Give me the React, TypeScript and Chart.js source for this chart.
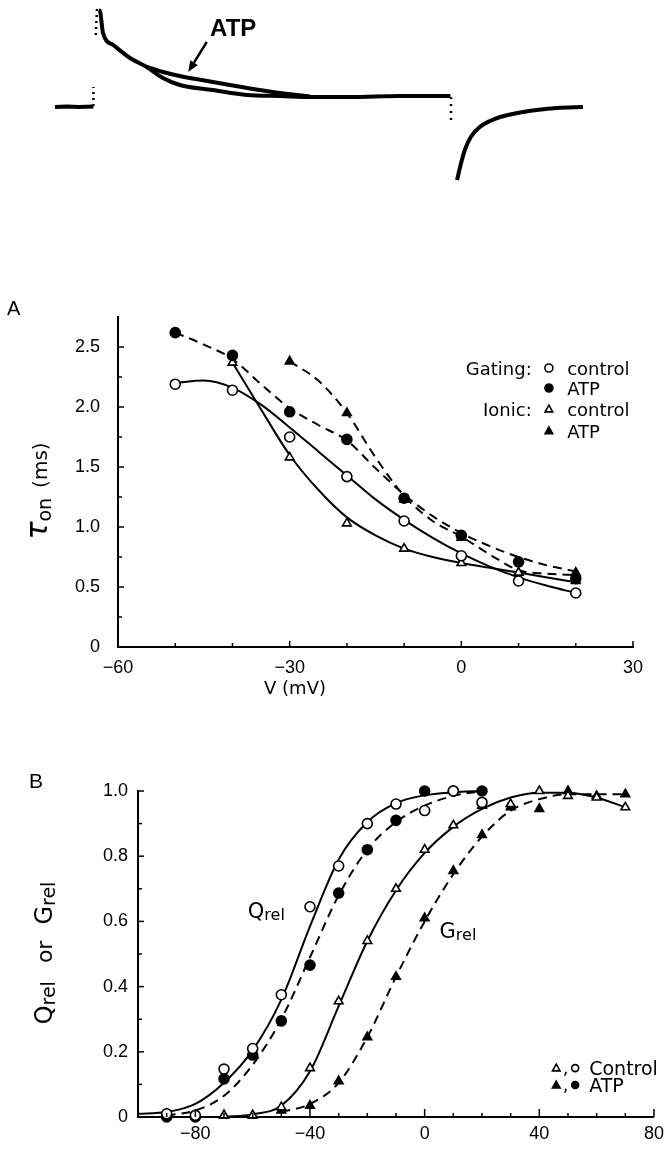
import React, { useEffect, useRef } from 'react';
import { Chart, registerables } from 'chart.js';

Chart.register(...registerables);

const FONT = '"Liberation Sans", Arial, Helvetica, sans-serif';
const FONT_TXT = '"DejaVu Sans", "Liberation Sans", sans-serif';

// ================= Top current trace (arbitrary units) =================
const tracePreT = [2.5, 4.5, 6.5, 8.9];
const tracePreV = [0, 0.5, 0, 0.5];
const traceControlT = [9.8, 10, 10.5, 12.2, 15, 17.8, 20.5, 23.3, 28.8, 34.5, 40, 45, 51.7, 60, 68.4];
const traceControlV = [97, 96, 74, 62, 49, 40, 29, 22, 17, 12, 11, 10, 10, 11, 11];
const traceAtpT = [17.8, 20.5, 23.3, 28.8, 34.5, 40, 42.8, 45];
const traceAtpV = [40, 35, 31, 25, 19, 14, 12, 10.5];
const traceOffT = [69.5, 70.1, 70.8, 71.8, 73.3, 75, 76.7, 80.5, 86.2, 90.5];
const traceOffV = [-73, -58, -43, -30, -20, -14, -10, -5, -1, 0];
const onArtifactT = [8.9, 8.9];
const onArtifactV = [1, 20];
const peakArtifactT = [9.3, 9.5];
const peakArtifactV = [72, 99];
const offArtifactT = [68.5, 68.5];
const offArtifactV = [10, -16];

// ================= Panel A: tau_on vs V =================
const aVoltage = [-50, -40, -30, -20, -10, 0, 10, 20];
const aGatingControl = [2.19, 2.14, 1.75, 1.42, 1.05, 0.76, 0.55, 0.45];
const aGatingAtp = [2.62, 2.43, 1.96, 1.73, 1.24, 0.93, 0.71, 0.57];
const aIonicControlV = [-40, -30, -20, -10, 0, 10, 20];
const aIonicControl = [2.37, 1.58, 1.03, 0.82, 0.7, 0.62, 0.55];
const aIonicAtpV = [-30, -20, -10, 0, 10, 20];
const aIonicAtp = [2.38, 1.95, 1.23, 0.91, 0.62, 0.62];

const aFitGatingControlV = [-50, -45, -40, -35, -30, -25, -20, -15, -10, -5, 0, 5, 10, 15, 20];
const aFitGatingControl = [2.2, 2.22, 2.16, 2.02, 1.83, 1.63, 1.43, 1.23, 1.06, 0.91, 0.78, 0.67, 0.58, 0.51, 0.45];
const aFitIonicControlV = [-40, -35, -30, -25, -20, -15, -10, -5, 0, 5, 10, 15, 20];
const aFitIonicControl = [2.37, 1.98, 1.6, 1.31, 1.08, 0.93, 0.82, 0.75, 0.7, 0.66, 0.62, 0.58, 0.54];
const aFitGatingAtpV = [-50, -45, -40, -35, -30, -25, -20, -15, -10, -5, 0, 5, 10, 15, 20];
const aFitGatingAtp = [2.62, 2.52, 2.4, 2.19, 1.99, 1.85, 1.72, 1.49, 1.27, 1.09, 0.95, 0.84, 0.75, 0.68, 0.63];
const aFitIonicAtpV = [-30, -25, -20, -15, -10, -5, 0, 5, 10, 15, 20];
const aFitIonicAtp = [2.38, 2.22, 1.95, 1.58, 1.26, 1.05, 0.92, 0.77, 0.64, 0.61, 0.6];

const aXTicks = [-60, -30, 0, 30];
const aXMinor = [-50, -40, -20, -10, 10, 20];
const aYTicks = [0, 0.5, 1.0, 1.5, 2.0, 2.5];
const aYMinor = [0.25, 0.75, 1.25, 1.75, 2.25];

// ================= Panel B: Qrel / Grel vs V =================
const bQV = [-90, -80, -70, -60, -50, -40, -30, -20, -10, 0, 10, 20];
const bQControl = [0.01, 0.005, 0.147, 0.21, 0.375, 0.645, 0.77, 0.9, 0.96, 0.94, 1.0, 0.965];
const bQAtp = [0.0, 0.0, 0.117, 0.19, 0.295, 0.466, 0.687, 0.82, 0.91, 1.0, 1.0, 1.0];
const bGV = [-70, -60, -50, -40, -30, -20, -10, 0, 10, 20, 30, 40, 50, 60, 70];
const bGControl = [0.005, 0.005, 0.03, 0.15, 0.355, 0.54, 0.7, 0.82, 0.895, 0.955, 0.96, 1.0, 0.985, 0.98, 0.95];
const bGAtp = [0.005, 0.005, 0.02, 0.035, 0.11, 0.245, 0.43, 0.61, 0.755, 0.865, 0.95, 0.945, 1.0, 0.985, 0.99];

const bFitQControlV = [-100, -90, -80, -70, -60, -50, -40, -30, -20, -10, 0, 10, 20];
const bFitQControl = [0.01, 0.015, 0.04, 0.105, 0.205, 0.36, 0.585, 0.79, 0.905, 0.963, 0.987, 0.996, 1.0];
const bFitQAtpV = [-90, -80, -70, -60, -50, -40, -30, -20, -10, 0, 10, 20];
const bFitQAtp = [0.005, 0.02, 0.065, 0.16, 0.3, 0.49, 0.68, 0.82, 0.905, 0.955, 0.985, 1.0];
const bFitGControlV = [-70, -60, -50, -40, -30, -20, -10, 0, 10, 20, 30, 40, 50, 60, 70];
const bFitGControl = [0.0, 0.008, 0.035, 0.14, 0.34, 0.54, 0.695, 0.81, 0.89, 0.945, 0.98, 0.995, 0.995, 0.98, 0.95];
const bFitGAtpV = [-50, -40, -30, -20, -10, 0, 10, 20, 30, 40, 50, 60, 70];
const bFitGAtp = [0.015, 0.04, 0.105, 0.245, 0.43, 0.6, 0.745, 0.86, 0.94, 0.975, 0.99, 0.99, 0.99];

const bXTicks = [-80, -40, 0, 40, 80];
const bXMinor = [-90, -70, -60, -50, -30, -20, -10, 10, 20, 30, 50, 60, 70];
const bYTicks = [0, 0.2, 0.4, 0.6, 0.8, 1.0];
const bYMinor = [0.1, 0.3, 0.5, 0.7, 0.9];

// ================= helpers =================
const zip = (xs: number[], ys: number[]) => xs.map((x, i) => ({ x, y: ys[i] }));
const fmtSigned = (n: number) => (n < 0 ? '\u2212' + Math.abs(n) : String(n));
const fmtDec = (n: number) => (n === 0 ? '0' : n.toFixed(1));

function pointsDs(xs: number[], ys: number[], style: string, filled: boolean, radius = 5) {
  return {
    data: zip(xs, ys),
    showLine: false,
    pointStyle: style,
    pointRadius: radius,
    pointBackgroundColor: filled ? '#000' : '#fff',
    pointBorderColor: '#000',
    pointBorderWidth: 1.6,
    clip: false,
  };
}

function curveDs(xs: number[], ys: number[], dashed: boolean, width = 2, smooth = true) {
  return {
    data: zip(xs, ys),
    showLine: true,
    pointRadius: 0,
    borderColor: '#000',
    borderWidth: width,
    borderDash: dashed ? [9, 6] : [],
    cubicInterpolationMode: smooth ? 'monotone' : 'default',
    tension: 0,
    fill: false,
    clip: false,
  };
}

function axis(min: number, max: number, ticks: number[], fmt: (n: number) => string, pad: number, size: number, isX: boolean) {
  return {
    type: 'linear',
    min,
    max,
    afterBuildTicks: (s: any) => {
      s.ticks = ticks.map((v) => ({ value: v }));
    },
    afterFit: (s: any) => {
      if (isX) s.height = size;
      else s.width = size;
    },
    grid: { display: false, drawTicks: false },
    border: { display: true, color: '#000', width: 2 },
    ticks: {
      color: '#000',
      font: { family: FONT, size: 18 },
      padding: pad,
      autoSkip: false,
      maxRotation: 0,
      callback: (v: any) => fmt(Number(v)),
    },
  };
}

function drawTickMarks(chart: any, ax: 'x' | 'y', values: number[], len: number) {
  const { ctx, chartArea } = chart;
  const s = chart.scales[ax];
  ctx.save();
  ctx.strokeStyle = '#000';
  ctx.lineWidth = 1.5;
  values.forEach((v) => {
    const p = s.getPixelForValue(v);
    ctx.beginPath();
    if (ax === 'x') {
      ctx.moveTo(p, chartArea.bottom);
      ctx.lineTo(p, chartArea.bottom - len);
    } else {
      ctx.moveTo(chartArea.left, p);
      ctx.lineTo(chartArea.left + len, p);
    }
    ctx.stroke();
  });
  ctx.restore();
}

type Part = { t: string; size: number; dy?: number; italic?: boolean; gap?: number; family?: string };

function drawParts(ctx: CanvasRenderingContext2D, parts: Part[], x: number, y: number, align: 'left' | 'center' | 'right') {
  const font = (p: Part) => `${p.italic ? 'italic ' : ''}${p.size}px ${p.family || FONT_TXT}`;
  let total = 0;
  parts.forEach((p) => {
    ctx.font = font(p);
    total += ctx.measureText(p.t).width + (p.gap || 0);
  });
  let cx = align === 'left' ? x : align === 'center' ? x - total / 2 : x - total;
  ctx.textAlign = 'left';
  ctx.textBaseline = 'alphabetic';
  parts.forEach((p) => {
    ctx.font = font(p);
    ctx.fillText(p.t, cx, y + (p.dy || 0));
    cx += ctx.measureText(p.t).width + (p.gap || 0);
  });
}

function marker(ctx: CanvasRenderingContext2D, kind: 'circle' | 'triangle', filled: boolean, x: number, y: number, r: number) {
  ctx.save();
  ctx.lineWidth = 1.6;
  ctx.strokeStyle = '#000';
  ctx.fillStyle = filled ? '#000' : '#fff';
  ctx.beginPath();
  if (kind === 'circle') {
    ctx.arc(x, y, r, 0, Math.PI * 2);
  } else {
    ctx.moveTo(x, y - r);
    ctx.lineTo(x + r * 0.95, y + r * 0.7);
    ctx.lineTo(x - r * 0.95, y + r * 0.7);
    ctx.closePath();
  }
  ctx.fill();
  ctx.stroke();
  ctx.restore();
}

const baseOptions = {
  responsive: false,
  animation: false as const,
  events: [] as any[],
  plugins: { legend: { display: false }, tooltip: { enabled: false } },
};

// ================= chart configs =================
function traceConfig(): any {
  return {
    type: 'scatter',
    data: {
      datasets: [
        curveDs(tracePreT, tracePreV, false, 4, false),
        curveDs(traceControlT, traceControlV, false, 4),
        curveDs(traceAtpT, traceAtpV, false, 4),
        curveDs(traceOffT, traceOffV, false, 4),
        { ...curveDs(onArtifactT, onArtifactV, false, 2.5, false), borderDash: [2, 4] },
        { ...curveDs(peakArtifactT, peakArtifactV, false, 2.5, false), borderDash: [2, 4] },
        { ...curveDs(offArtifactT, offArtifactV, false, 2.5, false), borderDash: [2, 5] },
      ],
    },
    options: {
      ...baseOptions,
      layout: { padding: { left: 40, right: 30, top: 5, bottom: 15 } },
      scales: {
        x: { type: 'linear', min: 0, max: 100, display: false },
        y: { type: 'linear', min: -78, max: 102, display: false },
      },
    },
    plugins: [
      {
        id: 'traceLabels',
        afterDraw(chart: any) {
          const { ctx } = chart;
          const sx = chart.scales.x;
          const sy = chart.scales.y;
          ctx.save();
          ctx.fillStyle = '#000';
          ctx.font = `bold 24px ${FONT}`;
          ctx.textAlign = 'center';
          ctx.textBaseline = 'middle';
          ctx.fillText('ATP', sx.getPixelForValue(32.2), sy.getPixelForValue(78));
          // arrow
          const x1 = sx.getPixelForValue(27.8), y1 = sy.getPixelForValue(65);
          const x2 = sx.getPixelForValue(24.7), y2 = sy.getPixelForValue(35);
          const ang = Math.atan2(y2 - y1, x2 - x1);
          const hl = 11, hw = 4.5;
          const bx = x2 - hl * Math.cos(ang), by = y2 - hl * Math.sin(ang);
          ctx.strokeStyle = '#000';
          ctx.lineWidth = 2.5;
          ctx.beginPath();
          ctx.moveTo(x1, y1);
          ctx.lineTo(bx, by);
          ctx.stroke();
          ctx.beginPath();
          ctx.moveTo(x2, y2);
          ctx.lineTo(bx + hw * Math.sin(ang), by - hw * Math.cos(ang));
          ctx.lineTo(bx - hw * Math.sin(ang), by + hw * Math.cos(ang));
          ctx.closePath();
          ctx.fill();
          ctx.restore();
        },
      },
    ],
  };
}

function panelAConfig(): any {
  return {
    type: 'scatter',
    data: {
      datasets: [
        pointsDs(aVoltage, aGatingControl, 'circle', false, 5),
        pointsDs(aVoltage, aGatingAtp, 'circle', true, 5),
        pointsDs(aIonicControlV, aIonicControl, 'triangle', false, 5),
        pointsDs(aIonicAtpV, aIonicAtp, 'triangle', true, 5),
        curveDs(aFitGatingControlV, aFitGatingControl, false),
        curveDs(aFitIonicControlV, aFitIonicControl, false),
        curveDs(aFitGatingAtpV, aFitGatingAtp, true),
        curveDs(aFitIonicAtpV, aFitIonicAtp, true),
      ],
    },
    options: {
      ...baseOptions,
      layout: { padding: { left: 58, right: 37, top: 37, bottom: 23 } },
      scales: {
        x: axis(-60, 30, aXTicks, fmtSigned, 10, 40, true),
        y: axis(0, 2.75, aYTicks, fmtDec, 18, 60, false),
      },
    },
    plugins: [
      {
        id: 'panelAText',
        afterDraw(chart: any) {
          const { ctx } = chart;
          const sx = chart.scales.x;
          const sy = chart.scales.y;
          drawTickMarks(chart, 'x', aXTicks, 6);
          drawTickMarks(chart, 'x', aXMinor, 4);
          drawTickMarks(chart, 'y', aYTicks, 6);
          drawTickMarks(chart, 'y', aYMinor, 4);
          ctx.save();
          ctx.fillStyle = '#000';
          // panel letter
          drawParts(ctx, [{ t: 'A', size: 20, family: FONT }], 7, 35, 'left');
          // x title
          drawParts(ctx, [{ t: 'V (mV)', size: 18 }], 295, 414, 'center');
          // y title (rotated)
          ctx.save();
          ctx.translate(47, 211);
          ctx.rotate(-Math.PI / 2);
          drawParts(
            ctx,
            [
              { t: '\u03C4', size: 30, italic: true },
              { t: 'on', size: 19, dy: 4, gap: 10 },
              { t: '(ms)', size: 20 },
            ],
            0,
            0,
            'center'
          );
          ctx.restore();
          // legend
          const lx = sx.getPixelForValue(12.3);
          const mx = sx.getPixelForValue(15.3);
          const tx = sx.getPixelForValue(18.5);
          const rows: [string, 'circle' | 'triangle', boolean, string][] = [
            ['Gating:', 'circle', false, 'control'],
            ['', 'circle', true, 'ATP'],
            ['Ionic:', 'triangle', false, 'control'],
            ['', 'triangle', true, 'ATP'],
          ];
          const rowY = [2.325, 2.158, 1.983, 1.8];
          rows.forEach((r, i) => {
            const y = sy.getPixelForValue(rowY[i]);
            if (r[0]) drawParts(ctx, [{ t: r[0], size: 18 }], lx, y + 7, 'right');
            marker(ctx, r[1], r[2], mx, y, 4);
            drawParts(ctx, [{ t: r[3], size: 18 }], tx, y + 7, 'left');
          });
          ctx.restore();
        },
      },
    ],
  };
}

function panelBConfig(): any {
  return {
    type: 'scatter',
    data: {
      datasets: [
        pointsDs(bQV, bQControl, 'circle', false, 5),
        pointsDs(bQV, bQAtp, 'circle', true, 5),
        pointsDs(bGV, bGControl, 'triangle', false, 5),
        pointsDs(bGV, bGAtp, 'triangle', true, 5),
        curveDs(bFitQControlV, bFitQControl, false),
        curveDs(bFitQAtpV, bFitQAtp, true),
        curveDs(bFitGControlV, bFitGControl, false),
        curveDs(bFitGAtpV, bFitGAtp, true),
      ],
    },
    options: {
      ...baseOptions,
      layout: { padding: { left: 88, right: 15, top: 51, bottom: 2 } },
      scales: {
        x: axis(-100, 80, bXTicks, fmtSigned, 6, 30, true),
        y: axis(0, 1.0, bYTicks, fmtDec, 10, 50, false),
      },
    },
    plugins: [
      {
        id: 'panelBText',
        afterDraw(chart: any) {
          const { ctx } = chart;
          const sx = chart.scales.x;
          const sy = chart.scales.y;
          drawTickMarks(chart, 'x', bXTicks, 8);
          drawTickMarks(chart, 'x', bXMinor, 4);
          drawTickMarks(chart, 'y', bYTicks, 6);
          drawTickMarks(chart, 'y', bYMinor, 4);
          ctx.save();
          ctx.fillStyle = '#000';
          drawParts(ctx, [{ t: 'B', size: 21, family: FONT }], 29, 48, 'left');
          // y title (rotated)
          ctx.save();
          ctx.translate(52, 213);
          ctx.rotate(-Math.PI / 2);
          drawParts(
            ctx,
            [
              { t: 'Q', size: 24 },
              { t: 'rel', size: 19, dy: 3, gap: 18 },
              { t: 'or', size: 22, gap: 16 },
              { t: 'G', size: 24 },
              { t: 'rel', size: 19, dy: 3 },
            ],
            0,
            0,
            'center'
          );
          ctx.restore();
          // curve labels
          drawParts(
            ctx,
            [
              { t: 'Q', size: 21 },
              { t: 'rel', size: 16, dy: 2 },
            ],
            sx.getPixelForValue(-61.7),
            sy.getPixelForValue(0.61),
            'left'
          );
          drawParts(
            ctx,
            [
              { t: 'G', size: 21 },
              { t: 'rel', size: 16, dy: 2 },
            ],
            sx.getPixelForValue(5.2),
            sy.getPixelForValue(0.55),
            'left'
          );
          // legend
          const r1 = sy.getPixelForValue(0.15);
          const r2 = sy.getPixelForValue(0.098);
          const m1 = sx.getPixelForValue(45.9);
          const m2 = sx.getPixelForValue(52.5);
          const cx = sx.getPixelForValue(49.2);
          const tx = sx.getPixelForValue(57.4);
          marker(ctx, 'triangle', false, m1, r1, 4);
          marker(ctx, 'circle', false, m2, r1, 3.5);
          marker(ctx, 'triangle', true, m1, r2, 4);
          marker(ctx, 'circle', true, m2, r2, 3.5);
          drawParts(ctx, [{ t: ',', size: 18 }], cx, r1 + 6, 'center');
          drawParts(ctx, [{ t: ',', size: 18 }], cx, r2 + 6, 'center');
          drawParts(ctx, [{ t: 'Control', size: 19 }], tx, r1 + 7, 'left');
          drawParts(ctx, [{ t: 'ATP', size: 19 }], tx, r2 + 7, 'left');
          ctx.restore();
        },
      },
    ],
  };
}

export default function App() {
  const traceRef = useRef<HTMLCanvasElement>(null);
  const aRef = useRef<HTMLCanvasElement>(null);
  const bRef = useRef<HTMLCanvasElement>(null);

  useEffect(() => {
    const charts: Chart[] = [];
    if (traceRef.current) charts.push(new Chart(traceRef.current, traceConfig()));
    if (aRef.current) charts.push(new Chart(aRef.current, panelAConfig()));
    if (bRef.current) charts.push(new Chart(bRef.current, panelBConfig()));
    return () => charts.forEach((c) => c.destroy());
  }, []);

  const cs = (top: number, h: number): React.CSSProperties => ({
    position: 'absolute',
    left: 0,
    top,
    width: 670,
    height: h,
  });

  return (
    <div style={{ position: 'absolute', left: 0, top: 0, width: 670, height: 1149, background: '#fff' }}>
      <canvas ref={traceRef} width={670} height={200} style={cs(0, 200)} />
      <canvas ref={aRef} width={670} height={430} style={cs(280, 430)} />
      <canvas ref={bRef} width={670} height={409} style={cs(740, 409)} />
    </div>
  );
}
